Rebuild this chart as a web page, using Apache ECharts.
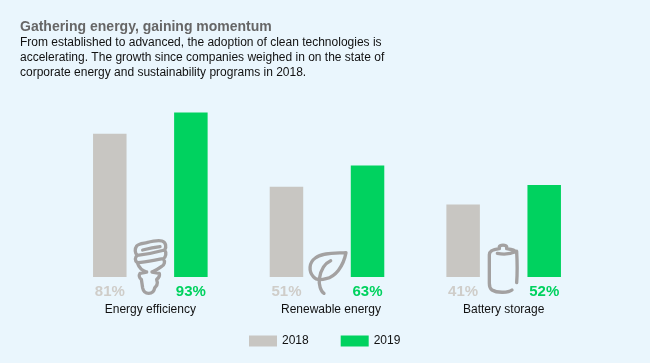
<!DOCTYPE html>
<html>
<head>
<meta charset="utf-8">
<style>
html, body { margin: 0; padding: 0; background: #eaf6fd; }
#chart { width: 650px; height: 363px; }
</style>
<script src="https://cdn.jsdelivr.net/npm/echarts@6/dist/echarts.min.js"></script>
</head>
<body>
<div id="chart"></div>
<script>
var categories = ["Energy efficiency", "Renewable energy", "Battery storage"];
var values2018 = [81, 51, 41];
var values2019 = [93, 63, 52];
var seriesNames = ["2018", "2019"];

var titleText = "Gathering energy, gaining momentum";
var subText = "From established to advanced, the adoption of clean technologies is\naccelerating. The growth since companies weighed in on the state of\ncorporate energy and sustainability programs in 2018.";

var fontName = "Liberation Sans";
var iconColor = "#a3a1a1";

// icons are traced at 3x, so each one is scaled back down
var bulbPath = "M200 126 C186 122 176 110 172 98 C164 92 164 82 172 76 C164 70 164 56 170 48 C176 40 190 40 200 38 C215 34 235 30 246 33 C258 36 260 52 254 60 C260 68 258 82 250 86 C256 94 254 106 244 110 C236 116 226 122 216 126 M172 76 C190 74 225 68 254 60 M174 98 C195 96 225 90 250 86 M188 60 C205 56 225 52 240 50 M216 126 L238 130 C240 138 236 144 230 148 L232 158 C232 168 226 170 224 174 C222 186 214 190 206 190 C196 190 190 184 188 174 L184 148 C178 144 176 136 180 130 L200 126";
var leafPath = "M258 68 C225 70 185 68 166 84 C146 98 146 124 160 140 C168 150 184 150 198 146 C226 140 250 110 258 68 Z M212 92 C194 100 182 120 178 146 C176 164 182 184 192 190";
var batteryPath = "M172 70 C190 74 212 72 230 64 C232 100 232 130 230 158 M216 180 C206 188 172 190 156 180 C150 176 148 170 148 160 L148 74 C148 62 160 58 178 56 L178 50 C180 44 198 44 200 50 L200 56 C216 58 228 60 230 72";

echarts.graphic.registerShape("bulbIcon", echarts.graphic.extendPath(bulbPath, {}));
echarts.graphic.registerShape("leafIcon", echarts.graphic.extendPath(leafPath, {}));
echarts.graphic.registerShape("batteryIcon", echarts.graphic.extendPath(batteryPath, {}));

function icon(type, x, y) {
    return {
        type: type,
        silent: true,
        x: x,
        y: y,
        scaleX: 1 / 3,
        scaleY: 1 / 3,
        style: { fill: null, stroke: iconColor, lineWidth: 10, lineCap: "round", lineJoin: "round" }
    };
}

function barLabel(color) {
    return {
        show: true,
        position: ["50%", "100%"],
        align: "center",
        verticalAlign: "top",
        offset: [0, 7],
        formatter: "{c}%",
        color: color,
        fontFamily: fontName,
        fontSize: 15,
        fontWeight: "bold"
    };
}

// the middle label sits a little right of its bars in the original
var axisData = categories.map(function (name, i) {
    return i == 1 ? { value: name, textStyle: { padding: [0, 0, 0, 8] } } : name;
});

var option = {
    backgroundColor: "#eaf6fd",
    animation: false,
    title: {
        text: titleText,
        subtext: subText,
        left: 20,
        top: 20,
        itemGap: 1,
        padding: 0,
        textStyle: { fontFamily: fontName, fontSize: 14, fontWeight: "bold", color: "#666666" },
        subtextStyle: { fontFamily: fontName, fontSize: 12, color: "#111111", lineHeight: 15 }
    },
    legend: {
        data: seriesNames,
        left: 249,
        top: 335,
        padding: 0,
        itemWidth: 28,
        itemHeight: 11,
        itemGap: 32,
        icon: "rect",
        textStyle: { fontFamily: fontName, fontSize: 12, color: "#111111" }
    },
    grid: { left: 62, right: 58, top: 100, bottom: 86 },
    xAxis: {
        type: "category",
        data: axisData,
        axisLine: { show: false },
        axisTick: { show: false },
        axisLabel: { margin: 27, fontFamily: fontName, fontSize: 12, color: "#111111" }
    },
    yAxis: {
        type: "value",
        min: 0,
        max: 100,
        show: false
    },
    series: [
        {
            name: seriesNames[0],
            type: "bar",
            data: values2018,
            barWidth: 33.5,
            barGap: "142%",
            itemStyle: { color: "#c8c6c2" },
            label: barLabel("#cfcdc9")
        },
        {
            name: seriesNames[1],
            type: "bar",
            data: values2019,
            barWidth: 33.5,
            itemStyle: { color: "#00d25f" },
            label: barLabel("#00d25f")
        }
    ],
    graphic: { elements: [icon("bulbIcon", 80, 230), icon("leafIcon", 260, 230), icon("batteryIcon", 440, 230)] }
};

var chart = echarts.init(document.getElementById("chart"));
chart.setOption(option);
</script>
</body>
</html>
